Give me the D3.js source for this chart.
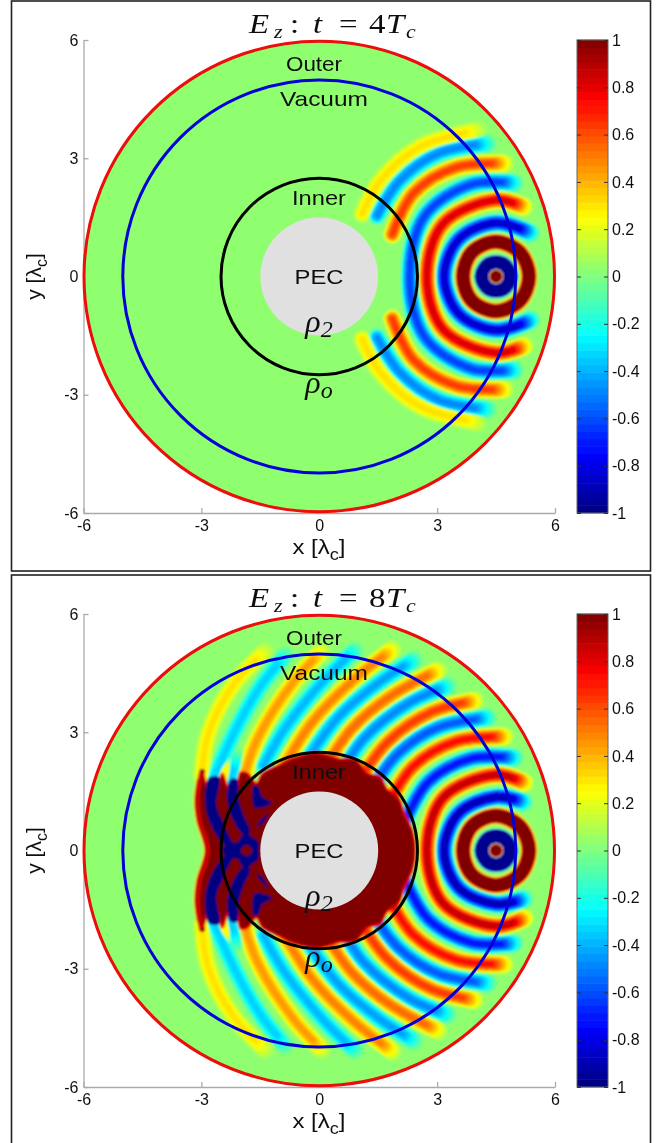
<!DOCTYPE html>
<html>
<head>
<meta charset="utf-8">
<script src="https://cdn.jsdelivr.net/npm/d3@7"></script>
<style>
  html, body { margin: 0; padding: 0; background: #fff; }
  svg { display: block; }
  text { font-family: "Liberation Sans", Arial, sans-serif; fill: #111; }
</style>
</head>
<body>
<div id="chart"></div>
<script>
// tick labels
var axisTicks = [-6, -3, 0, 3, 6]
var barTicks = [-1, -0.8, -0.6, -0.4, -0.2, 0, 0.2, 0.4, 0.6, 0.8, 1]
var barSteps = d3.range(64)

// field sizes
var sourceX = 4.5
var radiusPec = 1.5, radiusInner = 2.5, radiusVacuum = 5, radiusOuter = 6

// wavefronts: signed peak, then [angle deg, radius in lambda] from the source
var dotPeak = 4
var peaksTop = [-5, 2, -0.95, 0.85, -0.7, 0.65, -0.55, 0.3]
var stopsTop = [
  [[0,.37],[60,.37],[120,.37],[180,.37]],
  [[0,.84],[45,.86],[90,.88],[135,.87],[180,.84]],
  [[50,1.42],[90,1.36],[135,1.34],[180,1.32]],
  [[67,1.90],[90,1.94],[135,1.90],[180,1.76]],
  [[78,2.42],[105,2.42],[140,2.38],[180,2.2]],
  [[85,2.88],[110,2.95],[135,2.98],[158,2.85]],
  [[93,3.38],[115,3.45],[135,3.45],[153,3.4]],
  [[96.5,3.74],[120,3.82],[140,3.82],[155,3.76]]
]
var peaksBottom = [-5, 2, -1, 0.9, -0.8, 0.75, -0.65, 0.65, -0.55, 0.55, -0.5, 0.5, -0.45, 0.45, -0.4, 0.3, -0.4, 0.25]
var stopsBottom = [
  [[0,.37],[60,.37],[120,.37],[180,.37]],
  [[0,.84],[45,.86],[90,.88],[135,.87],[180,.84]],
  [[59,1.42],[90,1.36],[135,1.34],[180,1.32]],
  [[66,1.86],[90,1.92],[135,1.90],[180,1.76]],
  [[78,2.40],[105,2.42],[135,2.45],[165,2.45]],
  [[85,2.90],[110,2.95],[135,3.0],[160,3.0]],
  [[93,3.38],[115,3.45],[135,3.5],[156,3.55]],
  [[97.5,3.84],[115,3.88],[135,3.9],[152,3.9]],
  [[106,4.35],[120,4.35],[140,4.4],[156,4.42]],
  [[107.5,4.81],[125,4.75],[140,4.8],[156,4.85]],
  [[113,5.27],[125,5.2],[140,5.25],[156,5.35]],
  [[117,5.75],[130,5.65],[145,5.7],[158,5.8]],
  [[125,6.22],[135,6.15],[150,6.2],[160,6.3]],
  [[131,6.72],[140,6.7],[155,6.7],[164,6.68]],
  [[137,7.3],[145,7.3],[155,7.3],[166,7.42]],
  [[139,7.75],[148,7.9],[158,7.9],[166,7.72]],
  [[160,7.02],[164,6.98],[167,6.94]],
  [[161,7.2],[164,7.18],[167,7.18]]
]

// saturated region of the lower panel, upper half in x,y lambda (mirrored in y)
var saturated = [[2.44,0],[2.37,.50],[2.15,.96],[2.03,1.32],[1.72,1.56],[1.56,1.85],[1.22,1.96],[.93,2.30],[.49,2.33],[0,2.47],[-.62,2.36],[-1.13,2.12],[-1.45,1.95],[-1.6,1.7],[-1.82,1.95],[-2.0,1.98],[-2.12,1.55],[-2.3,1.55],[-2.47,1.95],[-2.62,1.5],[-2.8,1.5],[-2.98,1.97],[-3.08,1.28],[-3.03,.77],[-2.82,0]]
var rimLeft = [[-2.98,2.0],[-3.08,1.28],[-3.03,.77],[-2.82,0],[-3.03,-.77],[-3.08,-1.28],[-2.98,-2.0]]
var blueBands = [
  [[-2.80,1.85],[-2.90,1.16],[-2.72,.57],[-2.37,.11],[-2.21,.11],[-2.42,.65],[-2.62,1.16],[-2.54,1.85]],
  [[-2.26,1.8],[-2.34,1.28],[-2.19,.77],[-1.93,.42],[-1.76,.47],[-1.93,.9],[-2.06,1.33],[-2.09,1.8]],
  [[-1.65,1.66],[-1.70,1.36],[-1.63,1.08],[-1.20,1.21],[-1.45,1.36],[-1.55,1.61]],
  [[-1.60,.62],[-1.30,.95],[-1.45,.67]]
]
var blueKnot = [[-2.47,0],[-2.32,.19],[-2.06,.22],[-1.99,.37],[-1.83,.44],[-1.68,.32],[-1.55,.22],[-1.55,0]]
var knotHole = [[-2.0,0],[-1.85,.14],[-1.7,0]]

// title pieces: text, left edge, italic, subscript
var titlePieces = [["E",249,1,0],["z",274,1,1],[":",290,0,0],["t",313,1,0],["=",339,0,0],["N",369,0,0],["T",386,1,0],["c",406,1,1]]

var width = 672, height = 1143
var dotWidth = 14, levels = 12, taperLength = 16, titleStretch = 1.22
var panels = [
  {top: 1, bottom: 571, y0: 40, y1: 513, title: "4", peaks: peaksTop, stops: stopsTop, id: "a", filled: false},
  {top: 575, bottom: 1150, y0: 614, y1: 1087, title: "8", peaks: peaksBottom, stops: stopsBottom, id: "b", filled: true}
]

function jet(v){
  var t = Math.max(0, Math.min(1, (v + 1) / 2))
  function c(d){ return Math.round(255 * Math.max(0, Math.min(1, 1.5 - Math.abs(4 * t - d)))) }
  return d3.rgb(c(3), c(2), c(1)).formatHex()
}
// field colours sit a little above the middle of the map
function field(v){ return jet(v + 0.03) }
function frontWidth(i){ return i === 0 ? 15 : i === 1 ? 18 : 20 }

var svg = d3.select("#chart").append("svg").attr("width", width).attr("height", height)
var defs = svg.append("defs")
defs.append("filter").attr("id", "soft")
  .attr("x", "-5%").attr("y", "-5%").attr("width", "110%").attr("height", "110%")
  .append("feGaussianBlur").attr("stdDeviation", 0.9)
defs.append("filter").attr("id", "scan")
  .attr("filterUnits", "userSpaceOnUse").attr("x", 0).attr("y", 0).attr("width", width).attr("height", height)
  .append("feGaussianBlur").attr("stdDeviation", 0.35)
var page = svg.append("g").attr("filter", "url(#scan)")

panels.forEach(drawPanel)

function drawPanel(p){
  var x = d3.scaleLinear().domain([-6, 6]).range([83.5, 555])
  var y = d3.scaleLinear().domain([-6, 6]).range([p.y1, p.y0])
  var g = page.append("g")

  g.append("rect").attr("x", 11.5).attr("y", p.top).attr("width", 639)
    .attr("height", p.bottom - p.top)
    .attr("fill", "#fff").attr("stroke", "#222").attr("stroke-width", 1.6)

  var yAxis = d3.axisLeft(y).tickValues(axisTicks).tickFormat(String).tickSizeInner(-5).tickSizeOuter(0).tickPadding(5)
  var xAxis = d3.axisBottom(x).tickValues(axisTicks).tickFormat(String).tickSizeInner(-5).tickSizeOuter(0).tickPadding(7)
  var ya = g.append("g").attr("transform", "translate(" + x(-6) + ",0)").call(yAxis)
  var xa = g.append("g").attr("transform", "translate(0," + y(-6) + ")").call(xAxis)
  ;[ya, xa].forEach(function(a){
    a.selectAll("path,line").attr("stroke", "#aaa").attr("stroke-width", 1.3)
    a.selectAll("text").style("font-size", "16px").style("font-family", "Liberation Sans").attr("fill", "#111")
  })

  defs.append("clipPath").attr("id", "disk" + p.id).append("circle")
    .attr("cx", x(0)).attr("cy", y(0)).attr("r", x(radiusOuter) - x(0))

  var clip = g.append("g").attr("clip-path", "url(#disk" + p.id + ")")
  var soft = clip.append("g").attr("filter", "url(#soft)")
  soft.append("circle").attr("cx", x(0)).attr("cy", y(0)).attr("r", x(radiusOuter) - x(0) + 4).attr("fill", field(0))

  var polar = function(s, sign){
    var a = s[0] * Math.PI / 180
    return [x(sourceX + s[1] * Math.cos(a)), y(sign * s[1] * Math.sin(a))]
  }
  var ringLine = d3.line().curve(d3.curveCatmullRom)
  var ringClosed = d3.line().curve(d3.curveCatmullRomClosed)
  var shape = d3.line().curve(d3.curveCatmullRomClosed.alpha(0.5)).x(function(d){ return x(d[0]) }).y(function(d){ return y(d[1]) })
  var open = d3.line().curve(d3.curveCatmullRom).x(function(d){ return x(d[0]) }).y(function(d){ return y(d[1]) })

  // each wavefront becomes a stack of strokes, one per colour level
  var fronts = []
  p.stops.forEach(function(stops, i){
    var last = stops[stops.length - 1], w = frontWidth(i)
    if (last[0] === 180){
      var upper = stops.map(function(s){ return polar(s, 1) })
      var lower = stops.slice(1, -1).reverse().map(function(s){ return polar(s, -1) })
      if (stops[0][0] === 0) fronts.push({d: ringClosed(upper.concat(lower)), peak: p.peaks[i], w: w, taper: 0})
      else {
        lower.push(polar(stops[0], -1))
        fronts.push({d: ringLine(upper.concat(lower)), peak: p.peaks[i], w: w, taper: 2})
      }
    } else {
      fronts.push({d: ringLine(stops.map(function(s){ return polar(s, 1) })), peak: p.peaks[i], w: w, taper: 1})
      fronts.push({d: ringLine(stops.map(function(s){ return polar(s, -1) })), peak: p.peaks[i], w: w, taper: 1})
    }
  })
  if (p.filled) fronts.push({d: open(rimLeft), peak: 1.4, w: 10, taper: 0})

  d3.range(levels + 1).forEach(function(k){
    fronts.forEach(function(f){ level(soft, f, k) })
  })

  function level(sel, f, k){
    var a = Math.abs(f.peak), top = Math.min(1, a), v = top * k / levels
    var path = sel.append("path").attr("d", f.d).attr("fill", "none")
      .attr("stroke", field(f.peak < 0 ? -v : v))
      .attr("stroke-width", Math.max(f.w * Math.acos(Math.min(1, v / a)) * 2 / Math.PI, 0.5))
      .attr("stroke-linecap", "round").attr("stroke-linejoin", "round")
    if (f.taper){
      var len = path.node().getTotalLength(), cut = taperLength * k / levels
      path.attr("stroke-dasharray", (len - cut * f.taper) + " 99999").attr("stroke-dashoffset", -cut)
    }
  }

  if (p.filled){
    var mirror = function(pts){
      var low = pts.slice().reverse().filter(function(d){ return d[1] !== 0 }).map(function(d){ return [d[0], -d[1]] })
      return pts.concat(low)
    }
    soft.append("path").attr("d", shape(mirror(saturated)))
      .attr("fill", jet(1)).attr("stroke", jet(0.8)).attr("stroke-width", 2.5)
    blueBands.forEach(function(b){
      soft.append("path").attr("d", shape(b)).attr("fill", jet(-1))
      soft.append("path").attr("d", shape(b.map(function(d){ return [d[0], -d[1]] }))).attr("fill", jet(-1))
    })
    soft.append("path").attr("d", shape(mirror(blueKnot))).attr("fill", jet(-1))
    soft.append("path").attr("d", shape(mirror(knotHole))).attr("fill", jet(1))
  }
  // point source on top of the first ring
  d3.range(levels + 1).forEach(function(k){
    level(soft, {d: "M" + x(sourceX) + "," + y(0) + "h0.01", peak: dotPeak, w: dotWidth, taper: 0}, k)
  })

  g.append("circle").attr("cx", x(0)).attr("cy", y(0)).attr("r", x(radiusPec) - x(0)).attr("fill", "#e0e0e0")
  ;[[radiusInner, "#000"], [radiusVacuum, "#0000d8"], [radiusOuter, "#ee0a0a"]].forEach(function(c){
    g.append("circle").attr("cx", x(0)).attr("cy", y(0)).attr("r", x(c[0]) - x(0) - (c[0] === radiusOuter ? 0.5 : 0))
      .attr("fill", "none").attr("stroke", c[1]).attr("stroke-width", 3)
  })

  // region labels
  var dy = p.y0 - 40
  ;[["Outer", 314, 71, 56], ["Vacuum", 324, 106, 88], ["Inner", 319, 205, 54], ["PEC", 319, 284, 49]].forEach(function(t){
    g.append("text").attr("x", t[1]).attr("y", t[2] + dy).attr("text-anchor", "middle")
      .attr("textLength", t[3]).attr("lengthAdjust", "spacingAndGlyphs")
      .style("font-size", "21px").text(t[0])
  })
  ;[["2", 332], ["o", 393]].forEach(function(t){
    var lab = g.append("text").attr("x", 319).attr("y", t[1] + dy).attr("text-anchor", "middle")
      .style("font-family", "Liberation Serif").style("font-style", "italic").style("font-size", "32px")
    lab.append("tspan").text("\u03c1")
    lab.append("tspan").attr("dy", 5).style("font-size", "24px").text(t[0])
  })

  // title, the glyphs are wider than the font's in the original
  var title = g.append("text").attr("transform", "scale(" + titleStretch + ",1)")
    .style("font-family", "Liberation Serif").style("font-size", "27px")
  titlePieces.forEach(function(t){
    title.append("tspan").attr("x", t[1] / titleStretch).attr("y", p.y0 - 7 + (t[3] ? 5 : 0))
      .style("font-style", t[2] ? "italic" : "normal").style("font-size", t[3] ? "18px" : "27px")
      .text(t[0] === "N" ? p.title : t[0])
  })

  // axis titles
  function lambdaLabel(el, name){
    el.append("tspan").text(name + " [\u03bb")
    el.append("tspan").attr("dy", 6).style("font-size", "16px").text("c")
    el.append("tspan").attr("dy", -6).text("]")
  }
  var xt = g.append("text").attr("x", 319).attr("y", y(-6) + 41).attr("text-anchor", "middle").style("font-size", "21px")
    .attr("textLength", 53).attr("lengthAdjust", "spacingAndGlyphs")
  lambdaLabel(xt, "x")
  var yt = g.append("text").attr("transform", "translate(41," + y(0) + ") rotate(-90)").attr("text-anchor", "middle").style("font-size", "21px")
  lambdaLabel(yt, "y")

  // colorbar
  var bar = d3.scaleLinear().domain([-1, 1]).range([p.y1, p.y0])
  var steps = d3.scaleBand().domain(barSteps).range([p.y1, p.y0])
  var cb = g.append("g")
  cb.selectAll("rect").data(barSteps).enter().append("rect")
    .attr("x", 577).attr("width", 31)
    .attr("y", function(d){ return steps(d) - 0.3 })
    .attr("height", steps.bandwidth() + 0.6)
    .attr("fill", function(d){ return jet((d + 0.5) / 32 - 1) })
  cb.append("rect").attr("x", 577).attr("y", p.y0).attr("width", 31).attr("height", p.y1 - p.y0)
    .attr("fill", "none").attr("stroke", "#666").attr("stroke-width", 1)
  var barRight = d3.axisRight(bar).tickValues(barTicks).tickFormat(String).tickSizeInner(-4).tickSizeOuter(0).tickPadding(4)
  var barLeft = d3.axisLeft(bar).tickValues(barTicks).tickFormat("").tickSizeInner(-4).tickSizeOuter(0)
  var br = cb.append("g").attr("transform", "translate(608,0)").call(barRight)
  var bl = cb.append("g").attr("transform", "translate(577,0)").call(barLeft)
  ;[br, bl].forEach(function(a){
    a.select(".domain").remove()
    a.selectAll("line").attr("stroke", "#333")
    a.selectAll("text").style("font-size", "16px").style("font-family", "Liberation Sans").attr("fill", "#111")
  })
}
</script>
</body>
</html>
